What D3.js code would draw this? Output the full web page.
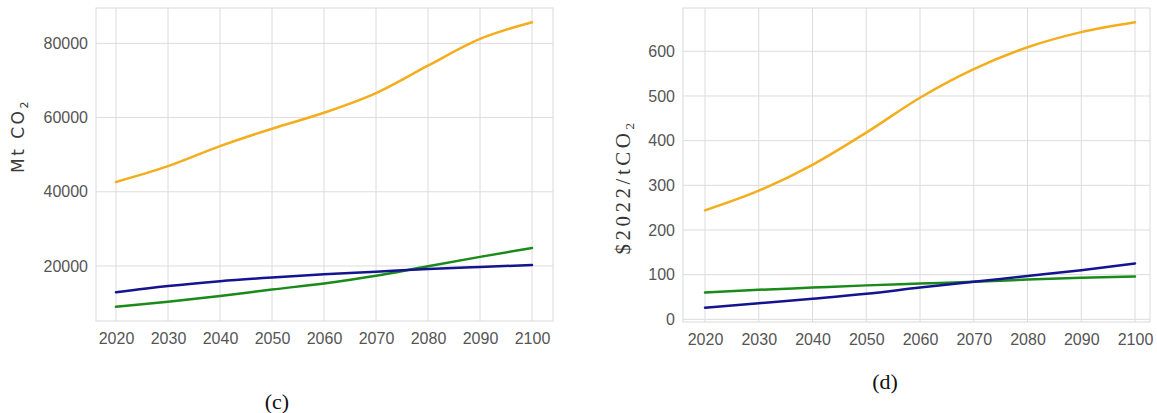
<!DOCTYPE html>
<html>
<head>
<meta charset="utf-8">
<script src="https://cdn.jsdelivr.net/npm/d3@7"></script>
<style>
  html, body { margin: 0; padding: 0; background: #fff; }
  svg { display: block; }
  .tick text { font-family: "Liberation Sans", Arial, sans-serif; font-size: 16px; fill: #555; }
</style>
</head>
<body>
<svg id="chart" width="1157" height="413"></svg>
<script>
// Years shared by both panels
const years = [2020, 2030, 2040, 2050, 2060, 2070, 2080, 2090, 2100];
const xTicks = [2020, 2030, 2040, 2050, 2060, 2070, 2080, 2090, 2100];

// Panel (c): emissions, Mt CO2
const emisOrange = [42650, 46900, 52300, 57000, 61300, 66600, 74000, 81200, 85700];
const emisBlue   = [12900, 14600, 15900, 16900, 17750, 18450, 19200, 19750, 20250];
const emisGreen  = [9000, 10350, 11900, 13650, 15300, 17350, 19950, 22450, 24850];
const emisTicks  = [20000, 40000, 60000, 80000];

// Panel (d): carbon price, $2022/tCO2
const priceOrange = [244, 288, 346, 418, 496, 560, 609, 643, 665];
const priceBlue   = [26, 36, 46, 57, 71, 84, 97, 110, 125];
const priceGreen  = [60, 66, 71, 76, 80, 84, 89, 93, 96];
const priceTicks  = [0, 100, 200, 300, 400, 500, 600];

const colors = { orange: "#f4ad1c", blue: "#14148f", green: "#1a8a1a" };

const svg = d3.select("#chart");

function panel(opts) {
  const { frame, xRange, yDomain, series, yTicks, yFmt } = opts;
  const g = svg.append("g");

  const x = d3.scaleLinear().domain([2020, 2100]).range(xRange);
  const y = d3.scaleLinear().domain(yDomain).range([frame.bottom, frame.top]);

  // grid lines
  g.append("g").selectAll("line").data(xTicks).join("line")
    .attr("x1", d => x(d)).attr("x2", d => x(d))
    .attr("y1", frame.top).attr("y2", frame.bottom)
    .attr("stroke", "#dcdcdc").attr("stroke-width", 1);
  g.append("g").selectAll("line").data(yTicks).join("line")
    .attr("x1", frame.left).attr("x2", frame.right)
    .attr("y1", d => y(d)).attr("y2", d => y(d))
    .attr("stroke", "#dcdcdc").attr("stroke-width", 1);

  // frame
  g.append("rect")
    .attr("x", frame.left).attr("y", frame.top)
    .attr("width", frame.right - frame.left).attr("height", frame.bottom - frame.top)
    .attr("fill", "none").attr("stroke", "#d9d9d9").attr("stroke-width", 1);

  // axes (labels only)
  const xAxis = g.append("g").attr("transform", `translate(0,${frame.bottom})`)
    .call(d3.axisBottom(x).tickValues(xTicks).tickFormat(d3.format("d")).tickSize(0).tickPadding(12));
  xAxis.select(".domain").remove();

  const yAxis = g.append("g").attr("transform", `translate(${frame.left},0)`)
    .call(d3.axisLeft(y).tickValues(yTicks).tickFormat(yFmt).tickSize(0).tickPadding(8));
  yAxis.select(".domain").remove();

  // series lines
  const line = d3.line()
    .x((d, i) => x(years[i]))
    .y(d => y(d))
    .curve(d3.curveMonotoneX);

  series.forEach(s => {
    g.append("path")
      .datum(s.values)
      .attr("d", line)
      .attr("fill", "none")
      .attr("stroke", s.color)
      .attr("stroke-width", 2.5)
      .attr("stroke-linecap", "round");
  });
  return g;
}

panel({
  frame: { left: 96, right: 553, top: 8, bottom: 321 },
  xRange: [116, 532],
  yDomain: [5165, 89535],
  yTicks: emisTicks,
  yFmt: d3.format("d"),
  series: [
    { values: emisOrange, color: colors.orange },
    { values: emisGreen, color: colors.green },
    { values: emisBlue, color: colors.blue }
  ]
});

panel({
  frame: { left: 683, right: 1150, top: 8, bottom: 322 },
  xRange: [705, 1135],
  yDomain: [-6, 697],
  yTicks: priceTicks,
  yFmt: d3.format("d"),
  series: [
    { values: priceOrange, color: colors.orange },
    { values: priceGreen, color: colors.green },
    { values: priceBlue, color: colors.blue }
  ]
});

// Axis titles
const t1 = svg.append("text")
  .attr("transform", "translate(24,136) rotate(-90)")
  .attr("text-anchor", "middle")
  .attr("font-family", "DejaVu Sans, sans-serif")
  .attr("font-size", 17)
  .attr("letter-spacing", 2.5)
  .attr("fill", "#3a3a3a");
t1.append("tspan").text("Mt CO");
t1.append("tspan").attr("font-size", 11).attr("dy", 4).text("2");

const t2 = svg.append("text")
  .attr("transform", "translate(630,187) rotate(-90)")
  .attr("text-anchor", "middle")
  .attr("font-family", "Liberation Serif, serif")
  .attr("font-size", 21)
  .attr("letter-spacing", 3.5)
  .attr("fill", "#333");
t2.append("tspan").text("$2022/tCO");
t2.append("tspan").attr("font-size", 13).attr("dy", 4).text("2");

// Panel captions
svg.append("text").attr("x", 277).attr("y", 409)
  .attr("text-anchor", "middle")
  .attr("font-family", "Liberation Serif, serif").attr("font-size", 22)
  .attr("fill", "#111").text("(c)");
svg.append("text").attr("x", 885).attr("y", 389)
  .attr("text-anchor", "middle")
  .attr("font-family", "Liberation Serif, serif").attr("font-size", 22)
  .attr("fill", "#111").text("(d)");
</script>
</body>
</html>
